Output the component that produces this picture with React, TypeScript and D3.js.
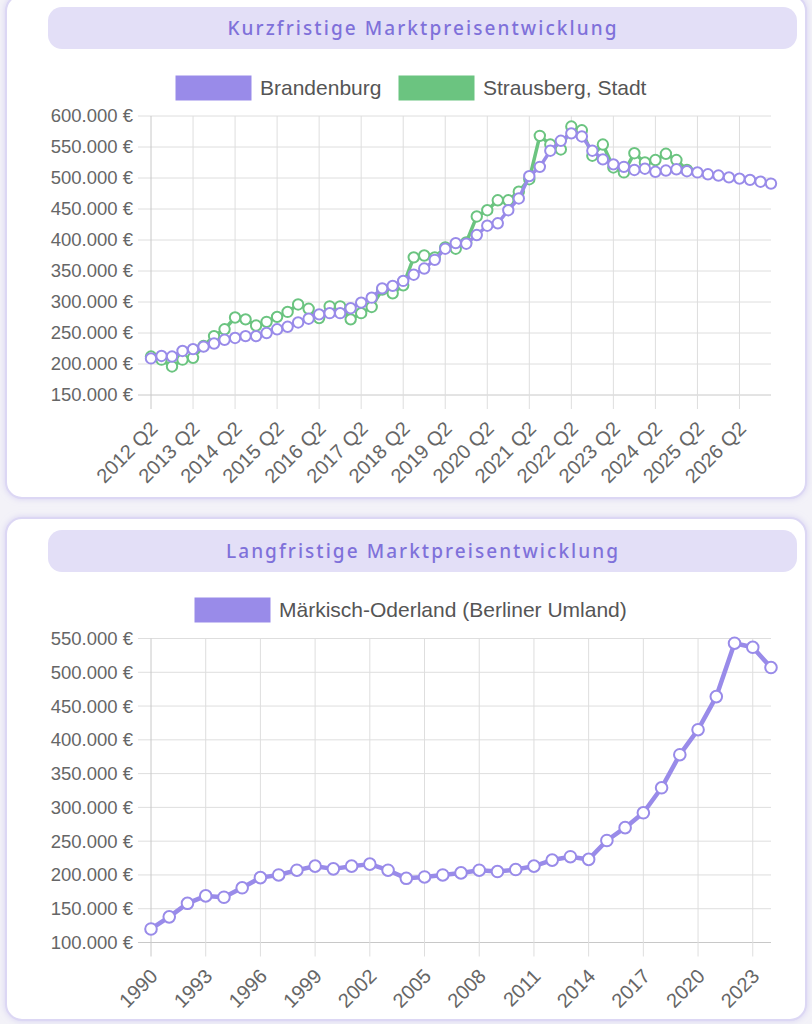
import React from 'react';
import * as d3 from 'd3';

// quarterly categories 2012 Q2 .. 2027 Q1
const quarterLabels: string[] = d3.range(0, 60).map(i => `${2012 + Math.floor((1 + i) / 4)} Q${((1 + i) % 4) + 1}`);

// Kurzfristig (in €)
const brandenburg = [
  209, 213, 212, 221, 224, 228, 233, 239, 242, 245,
  245, 250, 256, 260, 267, 273, 280, 282, 282, 290,
  299, 307, 322, 326, 334, 344, 354, 368, 386, 395,
  394, 408, 423, 427, 448, 467, 503, 518, 544, 560,
  572, 567, 544, 530, 522, 518, 513, 515, 510, 512,
  514, 511, 509, 506, 504, 501, 499, 497, 494, 491,
].map(v => v * 1000);

const strausberg = [
  212, 207, 196, 207, 210, 229, 245, 256, 275, 272,
  262, 268, 276, 284, 296, 289, 274, 293, 293, 272,
  282, 292, 320, 314, 327, 372, 375, 372, 388, 386,
  396, 438, 448, 464, 464, 478, 498, 568, 554, 546,
  583, 577, 536, 554, 517, 509, 540, 525, 529, 539,
  529, 513,
].map(v => v * 1000);

// Langfristig
const years: number[] = d3.range(1990, 2025);
const maerkischOderland = [
  120, 138, 158, 169, 167, 181, 196, 200, 207, 213,
  209, 213, 216, 207, 195, 197, 200, 203, 207, 205,
  208, 213, 222, 227, 223, 251, 270, 292, 329, 378,
  415, 464, 543, 537, 507,
].map(v => v * 1000);

const shortTicks = d3.range(150000, 600001, 50000);
const longTicks = d3.range(100000, 550001, 50000);

const PURPLE = '#998be9';
const GREEN = '#6bc480';
const TICK_COLOR = '#666';
const GRID = '#dedede';
const AXIS = '#c8c8c8';
const FONT = '"Liberation Sans", Arial, sans-serif';

const fmt = (v: number) => d3.format(',')(v).replace(/,/g, '.') + ' €';

type Series = { name: string; color: string; values: number[] };

function Chart(props: {
  labels: string[];
  series: Series[];
  yTicks: number[];
  yRange: [number, number];
  top: number;
  bottom: number;
  xEvery: number;
  r: number;
  lw: number;
}) {
  const { labels, series, yTicks, top, bottom, xEvery, r, lw } = props;
  const left = 151, right = 771;
  const x = d3.scalePoint<string>().domain(labels).range([left, right]);
  const y = d3.scaleLinear().domain(props.yRange).range([bottom, top]);
  const shown = labels.filter((_, i) => i % xEvery === 0);
  const line = d3.line<number>().x((_, i) => x(labels[i])!).y(d => y(d));

  return (
    <g>
      {yTicks.map(t => (
        <g key={t}>
          <line x1={left - 13} x2={right} y1={y(t)} y2={y(t)} stroke={t === props.yRange[0] ? AXIS : GRID} strokeWidth={1} />
          <text x={left - 18} y={y(t)} dy="0.35em" textAnchor="end" fontSize={18.5} fill={TICK_COLOR} fontFamily={FONT}>{fmt(t)}</text>
        </g>
      ))}
      {shown.map((l, i) => (
        <g key={l}>
          <line x1={x(l)} x2={x(l)} y1={top} y2={bottom + 14} stroke={i === 0 ? AXIS : GRID} strokeWidth={1} />
          <text transform={`translate(${x(l)! + 3},${bottom + 30}) rotate(-45)`} dy="0.35em" textAnchor="end" fontSize={20} fill={TICK_COLOR} fontFamily={FONT}>{l}</text>
        </g>
      ))}
      {[...series].reverse().map(s => (
        <g key={s.name}>
          <path d={line(s.values)!} fill="none" stroke={s.color} strokeWidth={lw} strokeLinejoin="round" />
          {s.values.map((v, i) => (
            <circle key={i} cx={x(labels[i])} cy={y(v)} r={r} fill="#fff" stroke={s.color} strokeWidth={2} />
          ))}
        </g>
      ))}
    </g>
  );
}

function Card({ y0, y1, title, titleWidth }: { y0: number; y1: number; title: string; titleWidth: number }) {
  return (
    <g>
      <rect x={6} y={y0} width={800} height={y1 - y0} rx={16} fill="#fff" stroke="#dcd7f4" strokeWidth={2} filter="url(#shadow)" />
      <rect x={48} y={y0 + 12} width={749} height={42} rx={14} fill="#e3dff7" />
      <text x={422} y={y0 + 33} dy="0.35em" textAnchor="middle" fontSize={19} fontWeight={500} fill="#7f71da"
        fontFamily='"Noto Sans", "Open Sans", sans-serif' textLength={titleWidth} lengthAdjust="spacing">{title}</text>
    </g>
  );
}

function Legend({ items, y }: { items: { name: string; color: string; x: number }[]; y: number }) {
  return (
    <g>
      {items.map(it => (
        <g key={it.name}>
          <rect x={it.x} y={y - 12} width={75} height={24} fill={it.color} stroke={it.color} strokeWidth={1} />
          <text x={it.x + 84} y={y} dy="0.35em" fontSize={21} fill="#555" fontFamily={FONT}>{it.name}</text>
        </g>
      ))}
    </g>
  );
}

export default function App() {
  const shortSeries: Series[] = [
    { name: 'Brandenburg', color: PURPLE, values: brandenburg },
    { name: 'Strausberg, Stadt', color: GREEN, values: strausberg },
  ];
  const longSeries: Series[] = [
    { name: 'Märkisch-Oderland (Berliner Umland)', color: PURPLE, values: maerkischOderland },
  ];
  return (
    <div style={{ position: 'absolute', left: 0, top: 0, width: 812, height: 1024 }}>
      <svg width={812} height={1024} style={{ display: 'block' }}>
        <defs>
          <filter id="shadow" x="-5%" y="-5%" width="110%" height="110%">
            <feDropShadow dx={0} dy={0} stdDeviation={3} floodColor="#c9c2ef" floodOpacity={0.7} />
          </filter>
        </defs>
        <rect width={812} height={1024} fill="#f3f2f8" />
        <Card y0={-5} y1={498} title="Kurzfristige Marktpreisentwicklung" titleWidth={389} />
        <Card y0={518} y1={1020} title="Langfristige Marktpreisentwicklung" titleWidth={392} />
        <Legend y={88} items={[
          { name: shortSeries[0].name, color: PURPLE, x: 176 },
          { name: shortSeries[1].name, color: GREEN, x: 399 },
        ]} />
        <Legend y={610} items={[{ name: longSeries[0].name, color: PURPLE, x: 195 }]} />
        <Chart labels={quarterLabels} series={shortSeries} yTicks={shortTicks} yRange={[150000, 600000]}
          top={116} bottom={395} xEvery={4} r={5.2} lw={3.5} />
        <Chart labels={years.map(String)} series={longSeries} yTicks={longTicks} yRange={[100000, 550000]}
          top={638.5} bottom={942.5} xEvery={3} r={5.8} lw={4.5} />
      </svg>
    </div>
  );
}
